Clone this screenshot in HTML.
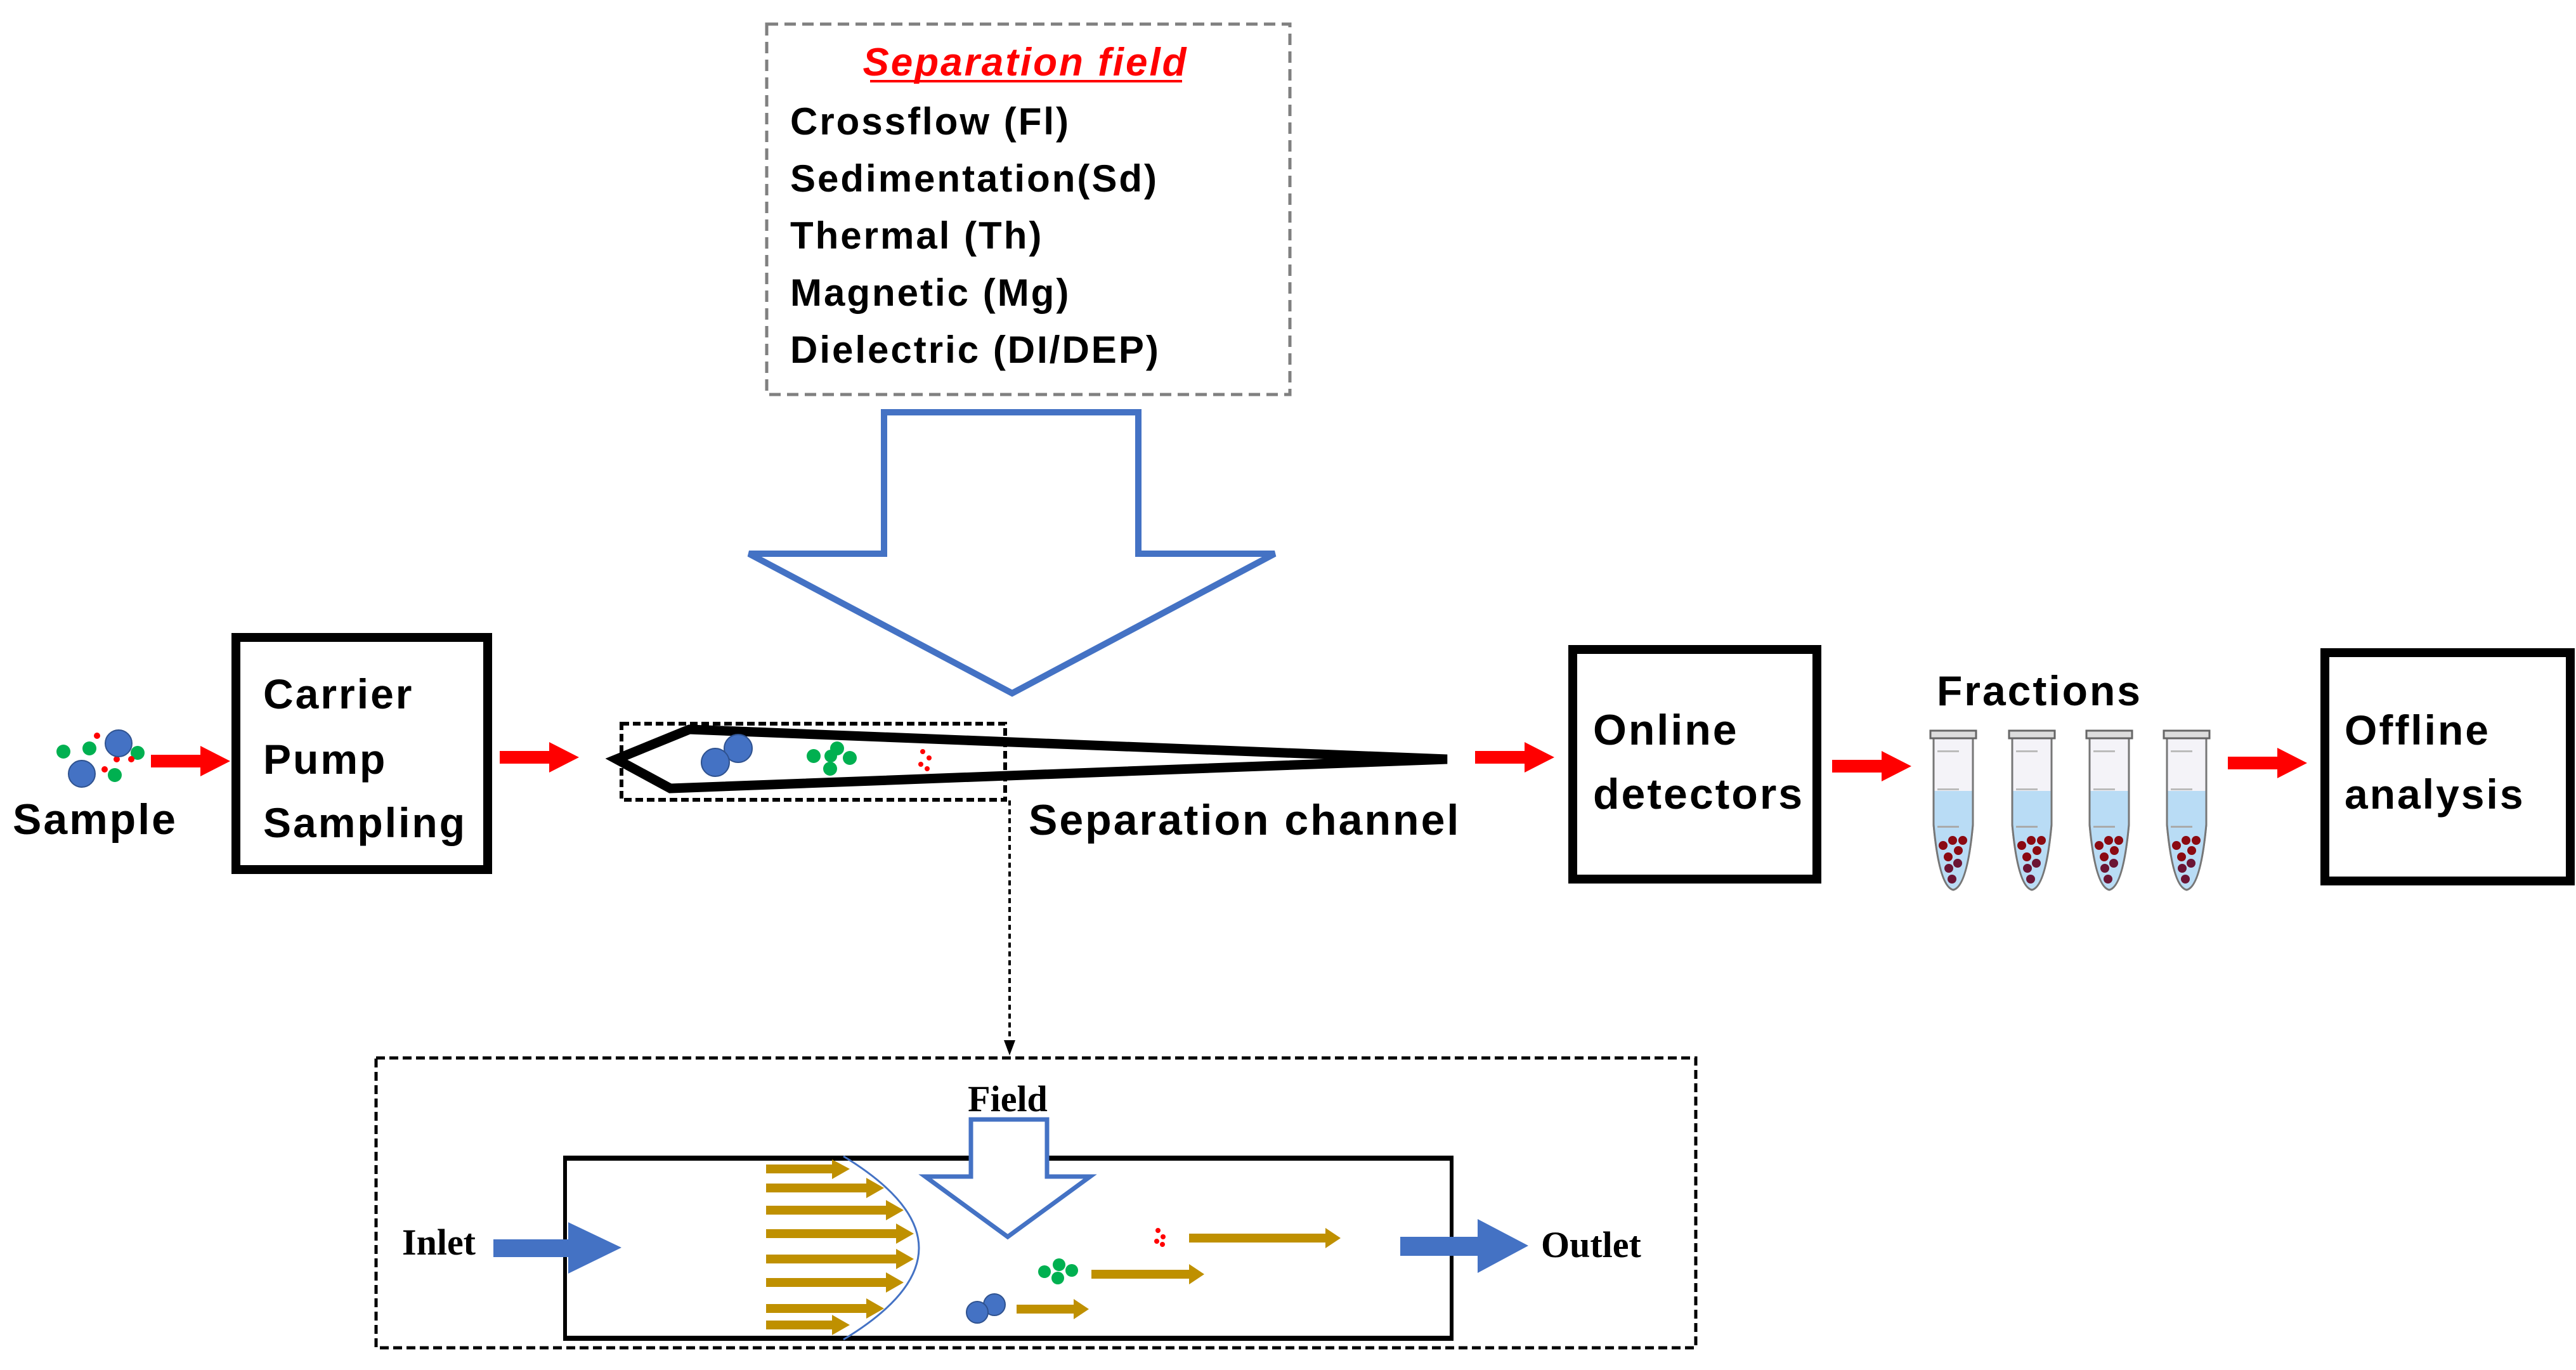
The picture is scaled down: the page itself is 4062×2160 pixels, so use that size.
<!DOCTYPE html>
<html><head><meta charset="utf-8"><style>
html,body{margin:0;padding:0;background:#fff;}
svg{display:block;}
.t{font-family:"Liberation Sans",sans-serif;font-weight:bold;fill:#000;letter-spacing:3px;}
.tm{font-family:"Liberation Serif",serif;font-weight:bold;fill:#000;}
</style></head><body>
<svg width="4062" height="2160" viewBox="0 0 4062 2160" xmlns="http://www.w3.org/2000/svg">
<defs>
<g id="tube">
  <path d="M-31,1164 L-31,1300 Q-22,1398 0,1403 Q22,1398 31,1300 L31,1164 Z" fill="#f4f3f8" stroke="#777" stroke-width="3"/>
  <path d="M-30,1247 L-30,1300 Q-21,1397 0,1401 Q21,1397 30,1300 L30,1247 Z" fill="#b9dcf5"/>
  <path d="M-31,1164 L-31,1300 Q-22,1398 0,1403 Q22,1398 31,1300 L31,1164" fill="none" stroke="#777" stroke-width="3"/>
  <rect x="-36" y="1152" width="72" height="12" fill="#ddd" stroke="#666" stroke-width="3"/>
  <rect x="-25" y="1183" width="34" height="3" fill="#bbb"/>
  <rect x="-25" y="1243" width="34" height="3" fill="#bbb"/>
  <rect x="-25" y="1302" width="34" height="3" fill="#aaa"/>
  <g fill="#8b0a12">
    <circle cx="-16" cy="1333" r="7"/><circle cx="-1" cy="1325" r="7"/><circle cx="15" cy="1325" r="7"/>
    <circle cx="8" cy="1341" r="7"/><circle cx="-8" cy="1351" r="7"/>
  </g>
  <g fill="#6b1535">
    <circle cx="7" cy="1361" r="7"/><circle cx="-7" cy="1369" r="7"/><circle cx="-2" cy="1386" r="7"/>
  </g>
</g>
<g id="redarrow">
  <path d="M0,-10 L78,-10 L78,-24 L125,0 L78,24 L78,10 L0,10 Z" fill="#ff0000"/>
</g>
</defs>

<!-- Separation field box -->
<rect x="1209" y="38" width="825" height="584" fill="none" stroke="#808080" stroke-width="5" stroke-dasharray="18,10"/>
<text x="1617" y="119" text-anchor="middle" font-family="Liberation Sans, sans-serif" font-weight="bold" font-style="italic" font-size="62" letter-spacing="3" fill="#ff0000">Separation field</text>
<rect x="1372" y="126" width="492" height="4" fill="#ff0000"/>
<text class="t" x="1246" y="212" font-size="60">Crossflow (Fl)</text>
<text class="t" x="1246" y="302" font-size="60">Sedimentation(Sd)</text>
<text class="t" x="1246" y="392" font-size="60">Thermal (Th)</text>
<text class="t" x="1246" y="482" font-size="60">Magnetic (Mg)</text>
<text class="t" x="1246" y="572" font-size="60">Dielectric (DI/DEP)</text>

<!-- big blue arrow -->
<path d="M1394,650 L1795,650 L1795,873 L2010,873 L1596,1093 L1181,873 L1394,873 Z" fill="none" stroke="#4472c4" stroke-width="10" stroke-linejoin="miter"/>

<!-- sample particles -->
<g>
  <circle cx="100" cy="1185" r="11" fill="#00b050"/>
  <circle cx="141" cy="1180" r="11" fill="#00b050"/>
  <circle cx="217" cy="1187" r="11" fill="#00b050"/>
  <circle cx="181" cy="1222" r="11" fill="#00b050"/>
  <circle cx="153" cy="1160" r="5" fill="#ff0000"/>
  <circle cx="165" cy="1213" r="5" fill="#ff0000"/>
  <circle cx="207" cy="1197" r="5" fill="#ff0000"/>
  <circle cx="184" cy="1197" r="5" fill="#ff0000"/>
  <circle cx="187" cy="1172" r="21" fill="#4472c4" stroke="#2f528f" stroke-width="2"/>
  <circle cx="129" cy="1220" r="21" fill="#4472c4" stroke="#2f528f" stroke-width="2"/>
</g>
<text class="t" x="150" y="1315" font-size="68" text-anchor="middle">Sample</text>
<use href="#redarrow" x="238" y="1200"/>

<!-- Carrier box -->
<rect x="372" y="1005" width="397" height="366" fill="none" stroke="#000" stroke-width="14"/>
<text class="t" x="415" y="1117" font-size="66">Carrier</text>
<text class="t" x="415" y="1220" font-size="66">Pump</text>
<text class="t" x="415" y="1320" font-size="66">Sampling</text>

<use href="#redarrow" x="788" y="1194"/>

<!-- channel -->
<path d="M1087,1150 L2282,1197 L1057,1243 L972,1197 Z" fill="none" stroke="#000" stroke-width="15" stroke-linejoin="miter"/>
<rect x="980" y="1141" width="605" height="120" fill="none" stroke="#000" stroke-width="6" stroke-dasharray="12,6"/>
<circle cx="1164" cy="1180" r="22" fill="#4472c4" stroke="#2f528f" stroke-width="2"/>
<circle cx="1128" cy="1202" r="22" fill="#4472c4" stroke="#2f528f" stroke-width="2"/>
<g fill="#00b050">
  <circle cx="1283" cy="1192" r="11"/><circle cx="1320" cy="1180" r="11"/>
  <circle cx="1340" cy="1195" r="11"/><circle cx="1309" cy="1212" r="11"/><circle cx="1310" cy="1192" r="10"/>
</g>
<g fill="#ff0000">
  <circle cx="1455" cy="1185" r="4"/><circle cx="1465" cy="1195" r="4"/><circle cx="1452" cy="1205" r="4"/><circle cx="1462" cy="1212" r="4"/>
</g>
<line x1="1592" y1="1262" x2="1592" y2="1645" stroke="#000" stroke-width="4" stroke-dasharray="8,6"/>
<path d="M1583,1640 L1601,1640 L1592,1664 Z" fill="#000"/>

<text class="t" x="1622" y="1316" font-size="68" letter-spacing="5">Separation channel</text>

<use href="#redarrow" x="2326" y="1194"/>

<!-- online detectors -->
<rect x="2480" y="1024" width="385" height="362" fill="none" stroke="#000" stroke-width="14"/>
<text class="t" x="2512" y="1174" font-size="68">Online</text>
<text class="t" x="2512" y="1275" font-size="68">detectors</text>

<use href="#redarrow" x="2889" y="1208"/>

<text class="t" x="3216" y="1112" font-size="66" text-anchor="middle">Fractions</text>
<use href="#tube" x="3080" y="0"/>
<use href="#tube" x="3204" y="0"/>
<use href="#tube" x="3326" y="0"/>
<use href="#tube" x="3448" y="0"/>

<use href="#redarrow" x="3513" y="1203"/>

<!-- offline analysis -->
<rect x="3666" y="1029" width="387" height="360" fill="none" stroke="#000" stroke-width="14"/>
<text class="t" x="3697" y="1174" font-size="66">Offline</text>
<text class="t" x="3697" y="1275" font-size="66">analysis</text>

<!-- bottom detail -->
<rect x="593" y="1668" width="2081" height="457" fill="none" stroke="#000" stroke-width="5" stroke-dasharray="14,7"/>
<rect x="891" y="1826" width="1398" height="284" fill="none" stroke="#000" stroke-width="6"/>
<line x1="888" y1="1826" x2="2292" y2="1826" stroke="#000" stroke-width="8"/>
<line x1="888" y1="2110" x2="2292" y2="2110" stroke="#000" stroke-width="8"/>

<text class="tm" x="1589" y="1752" font-size="58" text-anchor="middle">Field</text>
<path d="M1531,1765 L1651,1765 L1651,1855 L1719,1855 L1589,1950 L1459,1855 L1531,1855 Z" fill="#fff" stroke="#4472c4" stroke-width="7"/>

<text class="tm" x="634" y="1978" font-size="58">Inlet</text>
<path d="M778,1954 L896,1954 L896,1927 L980,1967 L896,2008 L896,1982 L778,1982 Z" fill="#4472c4"/>
<path d="M2208,1950 L2330,1950 L2330,1922 L2410,1964 L2330,2007 L2330,1980 L2208,1980 Z" fill="#4472c4"/>
<text class="tm" x="2430" y="1982" font-size="58">Outlet</text>

<g fill="#bf9000">
  <path d="M1208,1836 L1312,1836 L1312,1828 L1340,1843 L1312,1859 L1312,1850 L1208,1850 Z"/>
  <path d="M1208,1866 L1366,1866 L1366,1857 L1394,1873 L1366,1889 L1366,1880 L1208,1880 Z"/>
  <path d="M1208,1901 L1397,1901 L1397,1892 L1425,1908 L1397,1924 L1397,1915 L1208,1915 Z"/>
  <path d="M1208,1938 L1413,1938 L1413,1929 L1441,1945 L1413,1961 L1413,1952 L1208,1952 Z"/>
  <path d="M1208,1978 L1413,1978 L1413,1969 L1441,1985 L1413,2001 L1413,1992 L1208,1992 Z"/>
  <path d="M1208,2015 L1397,2015 L1397,2006 L1425,2022 L1397,2038 L1397,2029 L1208,2029 Z"/>
  <path d="M1208,2056 L1366,2056 L1366,2047 L1394,2063 L1366,2079 L1366,2070 L1208,2070 Z"/>
  <path d="M1208,2082 L1312,2082 L1312,2073 L1340,2089 L1312,2105 L1312,2096 L1208,2096 Z"/>
  <path d="M1875,1945 L2090,1945 L2090,1936 L2114,1952 L2090,1968 L2090,1959 L1875,1959 Z"/>
  <path d="M1721,2002 L1875,2002 L1875,1993 L1899,2009 L1875,2025 L1875,2016 L1721,2016 Z"/>
  <path d="M1603,2057 L1693,2057 L1693,2048 L1717,2064 L1693,2080 L1693,2071 L1603,2071 Z"/>
</g>
<path d="M1330,1823 Q1568,1968 1330,2112" fill="none" stroke="#4472c4" stroke-width="3"/>

<g fill="#ff0000">
  <circle cx="1826" cy="1940" r="4"/><circle cx="1834" cy="1950" r="4"/><circle cx="1824" cy="1957" r="4"/><circle cx="1833" cy="1962" r="4"/>
</g>
<g fill="#00b050">
  <circle cx="1647" cy="2005" r="10"/><circle cx="1670" cy="1994" r="10"/><circle cx="1690" cy="2003" r="10"/><circle cx="1668" cy="2015" r="10"/>
</g>
<circle cx="1568" cy="2057" r="17" fill="#4472c4" stroke="#2f528f" stroke-width="2"/>
<circle cx="1541" cy="2069" r="17" fill="#4472c4" stroke="#2f528f" stroke-width="2"/>
</svg>
</body></html>
